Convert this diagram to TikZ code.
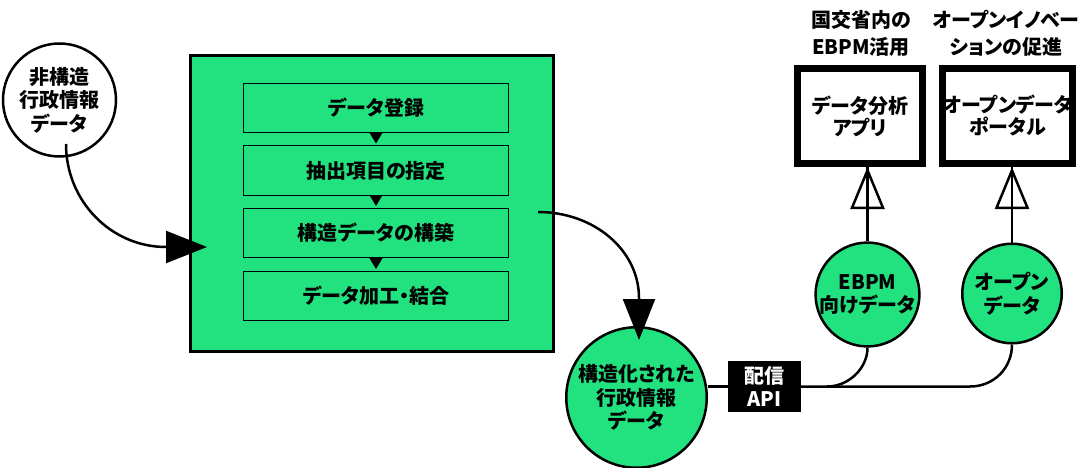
\documentclass[tikz,border=0pt]{standalone}
\usepackage{fontspec}
\setmainfont{Noto Sans CJK JP}[RawFeature=+palt]
\usetikzlibrary{arrows.meta}
\definecolor{grn}{RGB}{34,226,128}
\begin{document}
\begin{tikzpicture}[x=1pt,y=-1pt,
  every node/.style={font=\fontsize{20pt}{23.5pt}\selectfont\bfseries, align=center, inner sep=0pt},
  circ/.style={circle, draw, line width=2.5pt},
  procbox/.style={rectangle, draw, line width=1pt, minimum width=265pt, minimum height=49pt},
  appbox/.style={rectangle, draw, fill=white, line width=7pt, minimum height=95pt, font=\fontsize{20pt}{22pt}\selectfont\bfseries},
  titletext/.style={font=\fontsize{20pt}{27pt}\selectfont\bfseries},
  conn/.style={line width=2.5pt},
  bigtip/.style={-{Triangle[length=41pt,width=32pt]}},
  hollowtip/.style={-{Triangle[open,length=42pt,width=34pt]}},
  smalltip/.style={-{Triangle[length=11pt,width=13pt]}}
]
\useasboundingbox (0,0) rectangle (1092,468);

% big green panel and process steps
\node[draw, fill=grn, line width=3pt, minimum width=363pt, minimum height=296pt] (big) at (372,203.5) {};
\node[procbox] (b1) at (376,108) {データ登録};
\node[procbox] (b2) at (376,170.5) {抽出項目の指定};
\node[procbox] (b3) at (376,233) {構造データの構築};
\node[procbox] (b4) at (376,296) {データ加工・結合};
\draw[line width=1pt, smalltip, shorten >=2pt] (b1.south) -- (b2.north);
\draw[line width=1pt, smalltip, shorten >=2pt] (b2.south) -- (b3.north);
\draw[line width=1pt, smalltip, shorten >=2pt] (b3.south) -- (b4.north);

% input circle
\node[circ, fill=white, minimum size=113pt] (c1) at (59.5,100) {非構造\\行政情報\\データ};
\coordinate (a1s) at (66,144);
\coordinate (a1e) at (207,247);
\draw[conn, bigtip] (a1s) .. controls (66,201) and (111,247) .. (166,247) -- (a1e);

% output circle
\node[circ, fill=grn, minimum size=140.5pt] (c2) at (636.5,397.5) {構造化された\\行政情報\\データ};
\coordinate (a2s) at (538,212);
\coordinate (a2e) at (639,340);
\draw[conn, bigtip] (a2s) .. controls (594,212) and (639,250) .. (639,298) -- (a2e);

% API box
\node[fill=black, text=white, minimum width=73pt, minimum height=51pt] (api) at (764.5,386.5) {配信\\API};

% data circles
\node[circ, fill=grn, minimum size=99.5pt] (ec) at (867.5,294.5) {EBPM\\向けデータ};
\node[circ, fill=grn, minimum size=99.5pt] (oc) at (1012,293.5) {オープン\\データ};

% distribution lines
\coordinate (br) at (827,386.5);
\coordinate (bend) at (970,386.5);
\draw[conn] (c2.east |- api.west) -- (api.west);
\draw[conn] (api.east) -- (bend) .. controls (994,386.5) and (oc.south |- 0,368) .. (oc.south);
\draw[conn] (br) .. controls (849,386.5) and (ec.south |- 0,368) .. (ec.south);

% application boxes
\node[appbox, minimum width=125pt] (app1) at (860,116) {データ分析\\アプリ};
\node[appbox, minimum width=124pt] (app2) at (1007.5,116) {オープンデータ\\ポータル};
\node[titletext] (t1) at (861,33.5) {国交省内の\\EBPM活用};
\node[titletext] (t2) at (1006,33.5) {オープンイノベー\\ションの促進};

\draw[conn] (ec.north) -- (ec.north |- app1.south);
\draw[conn, hollowtip] (ec.north) -- (ec.north |- app1.south);
\draw[conn] (oc.north) -- (oc.north |- app2.south);
\draw[conn, hollowtip] (oc.north) -- (oc.north |- app2.south);
\end{tikzpicture}
\end{document}
